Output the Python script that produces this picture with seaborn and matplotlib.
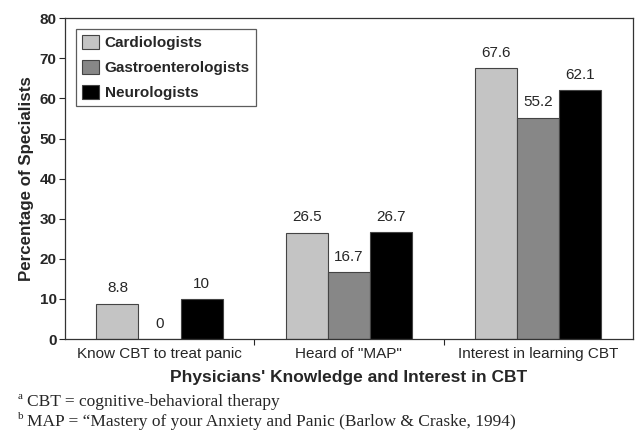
import numpy as np
import pandas as pd
import seaborn as sns
import matplotlib.pyplot as plt


categories = ['Know CBT to treat panic', 'Heard of "MAP"', 'Interest in learning CBT']
specialists = ['Cardiologists', 'Gastroenterologists', 'Neurologists']
cardio = [8.8, 26.5, 67.6]
gastro = [0, 16.7, 55.2]
neuro = [10, 26.7, 62.1]
colors = ['#c4c4c4', '#878787', '#000000']


def main():
    rows = []
    for name, vals in zip(specialists, [cardio, gastro, neuro]):
        for cat, v in zip(categories, vals):
            rows.append((cat, name, v))
    df = pd.DataFrame(rows, columns=['category', 'specialist', 'pct'])

    sns.set_style('white')
    plt.rcParams['font.family'] = ['Liberation Sans', 'DejaVu Sans']

    fig = plt.figure(figsize=(6.36, 4.32), dpi=100)
    ax = fig.add_axes([0.102, 0.215, 0.893, 0.743])
    sns.barplot(data=df, x='category', y='pct', hue='specialist',
                order=categories, hue_order=specialists,
                palette=colors, width=0.667, gap=0,
                edgecolor='#444444', linewidth=0.8, saturation=1, ax=ax)

    for cont in ax.containers:
        ax.bar_label(cont, fmt='%g', padding=6, fontsize=11)

    ax.set_ylim(0, 80)
    ax.set_xlim(-0.5, 2.5)
    ax.set_yticks(range(0, 81, 10))
    for lab in ax.get_yticklabels():
        lab.set_fontweight('bold')
        lab.set_fontsize(11)
    ax.tick_params(axis='y', left=True, length=4, width=0.8, pad=2)
    ax.tick_params(axis='x', which='major', length=0, labelsize=11, pad=6)
    ax.set_xticks([0.5, 1.5], minor=True)
    ax.tick_params(axis='x', which='minor', bottom=True, length=4, width=0.8)

    for sp in ax.spines.values():
        sp.set_color('#333333')
        sp.set_linewidth(0.9)

    ax.set_ylabel('Percentage of Specialists', fontsize=12.2, fontweight='bold', labelpad=4)
    ax.set_xlabel("Physicians' Knowledge and Interest in CBT", fontsize=12.5,
                  fontweight='bold', labelpad=6)

    leg = ax.legend(loc='upper left', bbox_to_anchor=(0.019, 0.966), frameon=True,
                    fancybox=False, edgecolor='#333333', prop={'weight': 'bold', 'size': 11},
                    handlelength=1.1, handleheight=1.0, handletextpad=0.4,
                    borderpad=0.4, labelspacing=0.65, borderaxespad=0)
    leg.get_frame().set_linewidth(0.9)

    serif = ['Liberation Serif']
    fig.text(0.028, 0.083, 'a', family=serif, fontsize=8, va='center', ha='left')
    fig.text(0.043, 0.069, 'CBT = cognitive-behavioral therapy',
             family=serif, fontsize=12.5, va='center')
    fig.text(0.028, 0.037, 'b', family=serif, fontsize=8, va='center', ha='left')
    fig.text(0.043, 0.023, 'MAP = \u201cMastery of your Anxiety and Panic (Barlow & Craske, 1994)',
             family=serif, fontsize=12.5, va='center')

    plt.savefig('out.png', dpi=100)


if __name__ == "__main__":
    main()
